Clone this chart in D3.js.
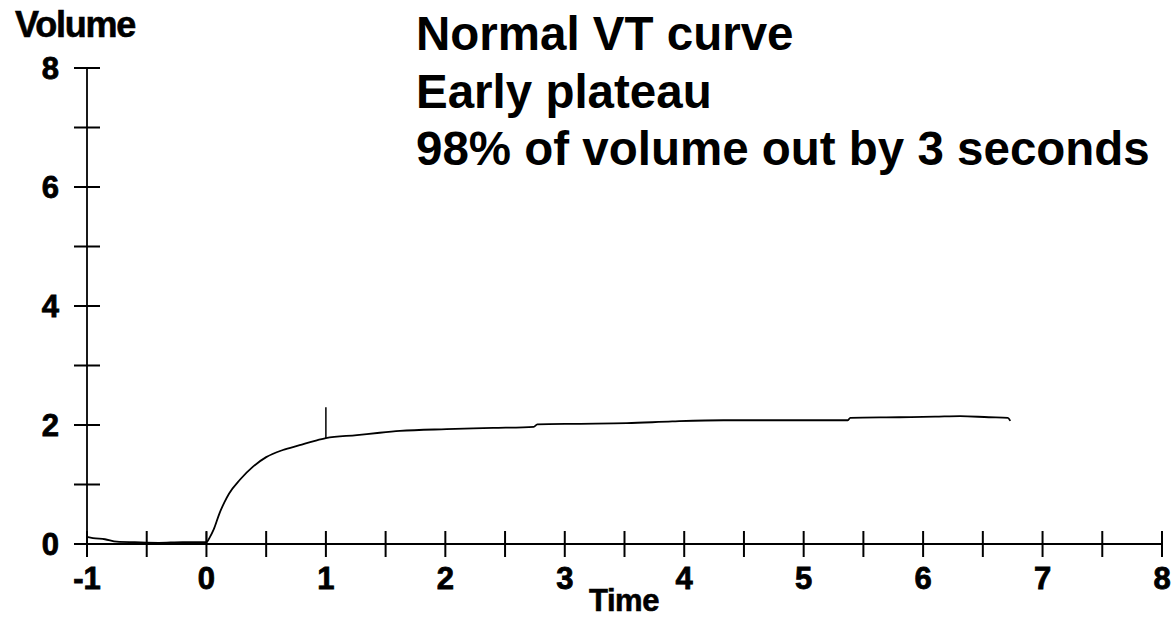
<!DOCTYPE html>
<html>
<head>
<meta charset="utf-8">
<script src="https://cdn.jsdelivr.net/npm/d3@7"></script>
<style>
  html, body { margin: 0; padding: 0; background: #fff; }
  svg { display: block; font-family: "Liberation Sans", Arial, Helvetica, sans-serif; }
</style>
</head>
<body>
<svg id="chart" width="1175" height="617"></svg>
<script>
// Volume–time spirogram (seconds vs litres)
const times   = [-1.00, -0.95, -0.85, -0.75, -0.60, -0.40, -0.20, -0.05, 0.00, 0.03, 0.06, 0.11, 0.15, 0.19,
                 0.28, 0.39, 0.50, 0.64, 0.78, 0.90, 1.00, 1.26, 1.45, 1.62, 2.01, 2.40, 2.74, 2.77,
                 3.10, 3.52, 3.90, 4.33, 4.80, 5.37, 5.39, 5.80, 6.10, 6.31, 6.55, 6.71, 6.73];
const volumes = [0.12, 0.10, 0.08, 0.04, 0.03, 0.02, 0.03, 0.03, 0.03, 0.12, 0.24, 0.52, 0.70, 0.85,
                 1.08, 1.30, 1.46, 1.58, 1.66, 1.73, 1.78, 1.83, 1.87, 1.90, 1.93, 1.95, 1.97, 2.01,
                 2.02, 2.03, 2.06, 2.08, 2.08, 2.08, 2.12, 2.13, 2.14, 2.15, 2.13, 2.12, 2.07];

// Vertical marks: start of test (t = 0) and one-second point (FEV1)
const markerTimes = [0, 1];
const markerLow   = [0, 1.78];
const markerHigh  = [0.2, 2.3];

const xTickValues = [-1, -0.5, 0, 0.5, 1, 1.5, 2, 2.5, 3, 3.5, 4, 4.5, 5, 5.5, 6, 6.5, 7, 7.5, 8];
const xTickLabels = ["-1", "0", "1", "2", "3", "4", "5", "6", "7", "8"];
const yTickValues = [0, 1, 2, 3, 4, 5, 6, 7, 8];
const yTickLabels = ["0", "2", "4", "6", "8"];

const titleLines = ["Normal VT curve", "Early plateau", "98% of volume out by 3 seconds"];

const svg = d3.select("#chart");
const x = d3.scaleLinear().domain([-1, 8]).range([87, 1162]);
const y = d3.scaleLinear().domain([0, 8]).range([544, 68]);

const ink = "#000";
const tickHalf = 13;

// Axis lines
svg.append("line")
  .attr("x1", x(-1) - tickHalf).attr("x2", x(8))
  .attr("y1", y(0)).attr("y2", y(0))
  .attr("stroke", ink).attr("stroke-width", 2.2);
svg.append("line")
  .attr("x1", x(-1)).attr("x2", x(-1))
  .attr("y1", y(0)).attr("y2", y(8))
  .attr("stroke", ink).attr("stroke-width", 1.8);

// Ticks crossing the axes
svg.append("g").selectAll("line").data(xTickValues).join("line")
  .attr("x1", d => x(d)).attr("x2", d => x(d))
  .attr("y1", y(0) - tickHalf).attr("y2", y(0) + tickHalf)
  .attr("stroke", ink).attr("stroke-width", 2);
svg.append("g").selectAll("line").data(yTickValues).join("line")
  .attr("x1", x(-1) - tickHalf).attr("x2", x(-1) + tickHalf)
  .attr("y1", d => y(d)).attr("y2", d => y(d))
  .attr("stroke", ink).attr("stroke-width", 2);

// Tick labels (heavy, slightly stroked for the chunky axis face)
svg.append("g").selectAll("text").data(xTickLabels).join("text")
  .attr("x", d => x(+d)).attr("y", 589)
  .attr("text-anchor", "middle")
  .attr("font-size", 31).attr("font-weight", "bold").attr("fill", ink)
  .attr("stroke", ink).attr("stroke-width", 0.8)
  .text(d => d);
svg.append("g").selectAll("text").data(yTickLabels).join("text")
  .attr("x", 59).attr("y", d => y(+d) + 11)
  .attr("text-anchor", "end")
  .attr("font-size", 31).attr("font-weight", "bold").attr("fill", ink)
  .attr("stroke", ink).attr("stroke-width", 0.8)
  .text(d => d);

// Axis titles
svg.append("text")
  .attr("x", 15).attr("y", 37)
  .attr("font-size", 36).attr("font-weight", "bold").attr("fill", ink)
  .attr("stroke", ink).attr("stroke-width", 0.6)
  .attr("letter-spacing", -1.2)
  .text("Volume");
svg.append("text")
  .attr("x", 624).attr("y", 611)
  .attr("text-anchor", "middle")
  .attr("font-size", 31).attr("font-weight", "bold").attr("fill", ink)
  .attr("stroke", ink).attr("stroke-width", 0.6)
  .attr("letter-spacing", -0.5)
  .text("Time");

// Annotation block
svg.append("g").selectAll("text").data(titleLines).join("text")
  .attr("x", 416).attr("y", (d, i) => 50 + i * 57.5)
  .attr("font-size", 47.5).attr("font-weight", "bold").attr("fill", ink)
  .text(d => d);

// Markers
svg.append("g").selectAll("line").data(markerTimes).join("line")
  .attr("x1", d => x(d)).attr("x2", d => x(d))
  .attr("y1", (d, i) => y(markerLow[i])).attr("y2", (d, i) => y(markerHigh[i]))
  .attr("stroke", ink).attr("stroke-width", 1.5);

// Volume curve
const pts = times.map((t, i) => [t, volumes[i]]);
svg.append("path")
  .datum(pts)
  .attr("fill", "none")
  .attr("stroke", ink)
  .attr("stroke-width", 1.8)
  .attr("stroke-linejoin", "round")
  .attr("d", d3.line().x(d => x(d[0])).y(d => y(d[1])).curve(d3.curveMonotoneX));
</script>
</body>
</html>
